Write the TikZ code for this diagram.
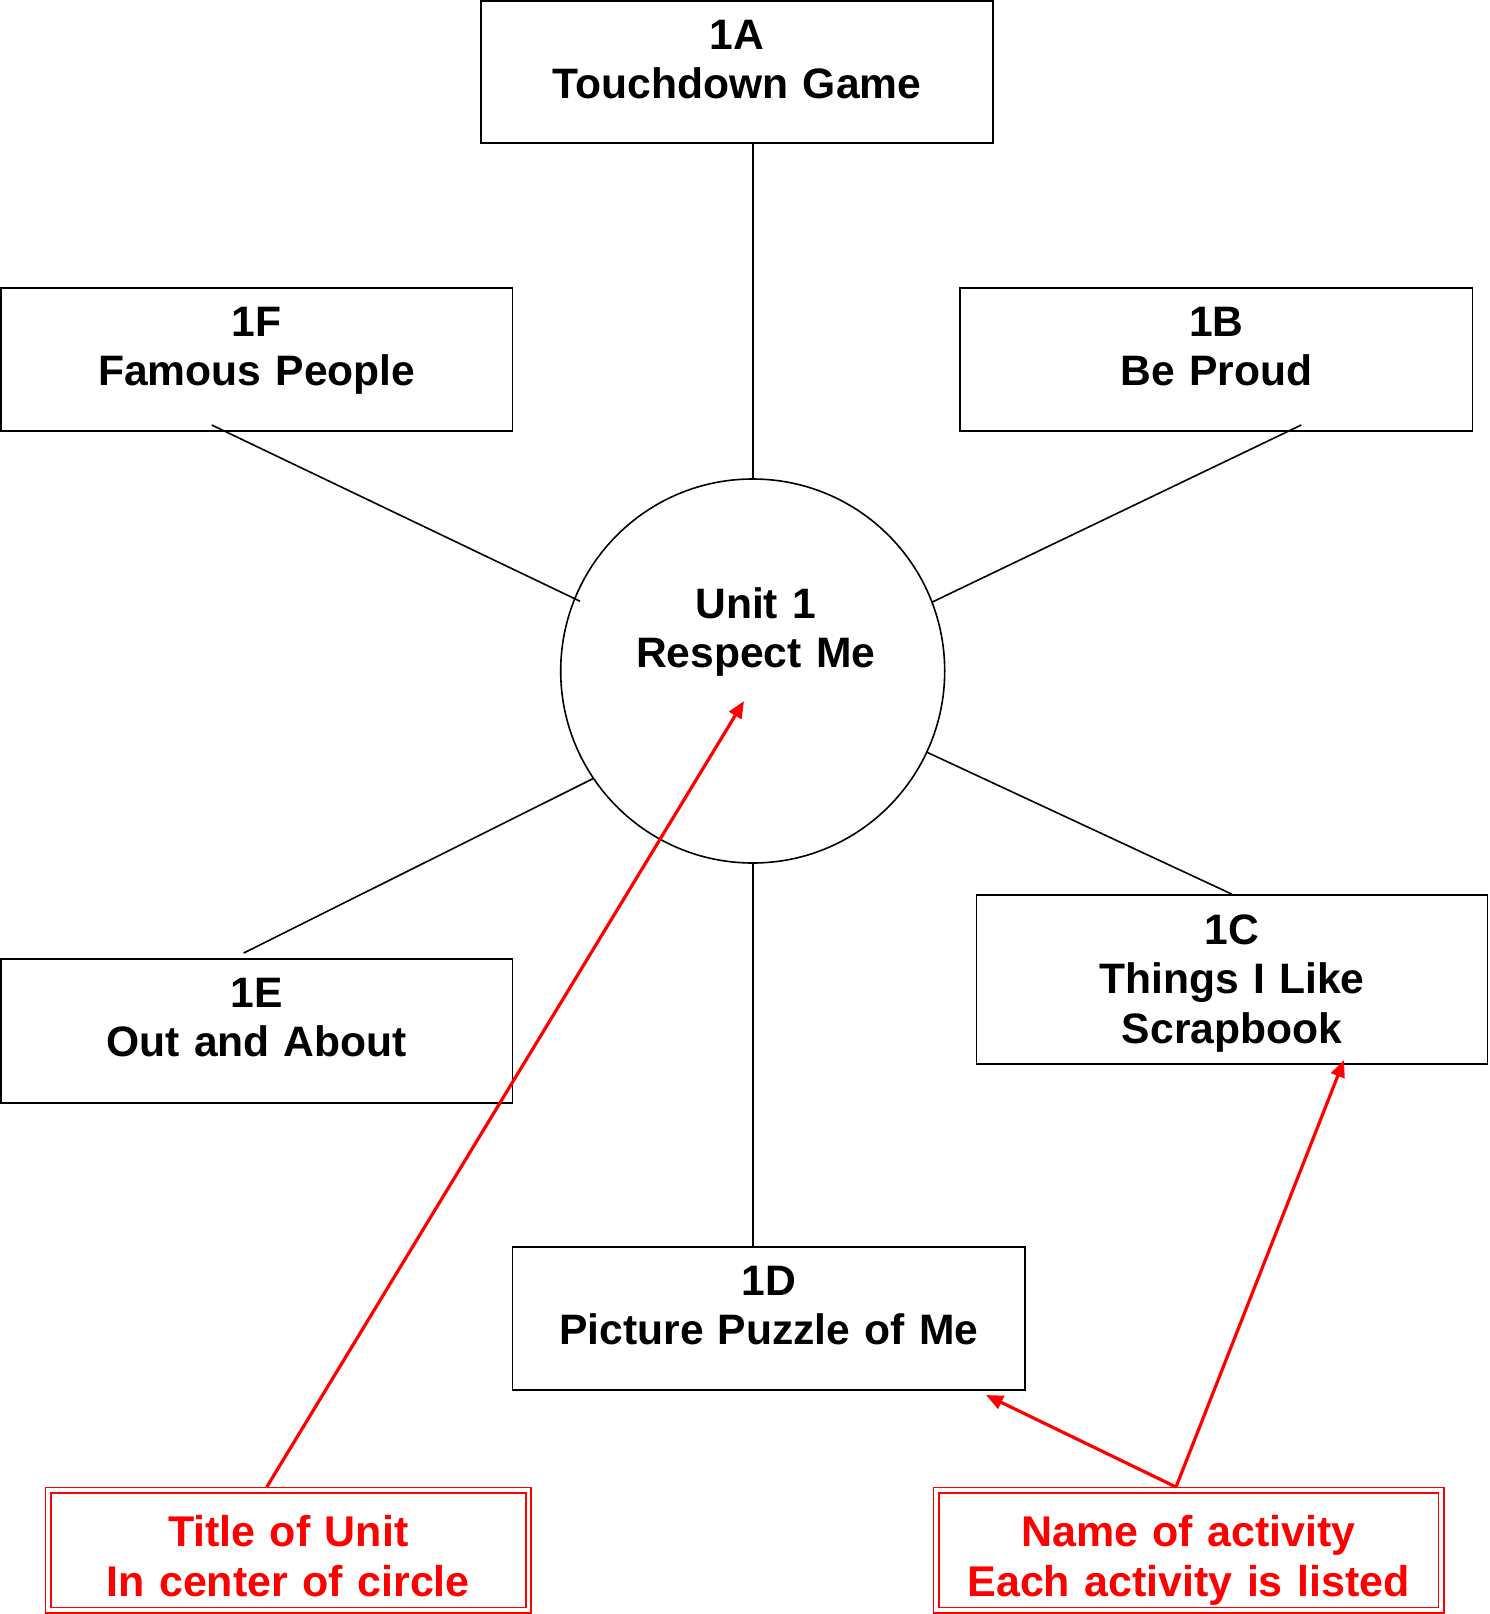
\documentclass[tikz,border=0pt]{standalone}
\usepackage{fontspec}
\setmainfont{Liberation Sans}
\usetikzlibrary{calc,arrows.meta}
\begin{document}
\begin{tikzpicture}[x=1pt,y=-1pt,
  box/.style={draw=black,line width=1.8pt,inner sep=0pt,outer sep=0pt,anchor=north west},
  lbl/.style={font=\fontsize{42.6}{49.4}\selectfont\bfseries,text width=520pt,align=center,inner sep=0pt,anchor=base},
  rlbl/.style={lbl,text=red,font=\fontsize{43}{49.4}\selectfont\bfseries},
  conn/.style={draw=black,line width=1.6pt},
  redbox/.style={draw=red,line width=1.8pt,double=white,double distance=3.4pt,inner sep=0pt,outer sep=0pt,anchor=north west},
  redarrow/.style={draw=red,line width=3.2pt,-{Triangle[length=17pt,width=14pt]}}]
\useasboundingbox (0,0) rectangle (1489,1614);
% activity boxes
\node[box,minimum width=512pt,minimum height=142pt] (nA) at (481,1) {};
\node[box,minimum width=511.5pt,minimum height=143pt] (nF) at (1,288) {};
\node[box,minimum width=512.5pt,minimum height=143pt] (nB) at (960,288) {};
\node[box,minimum width=511.5pt,minimum height=144pt] (nE) at (1,959) {};
\node[box,minimum width=511pt,minimum height=169pt] (nC) at (976.5,895) {};
\node[box,minimum width=512.5pt,minimum height=143pt] (nD) at (512.5,1247) {};
% centre circle
\node[circle,draw=black,line width=1.6pt,minimum size=384pt,inner sep=0pt,outer sep=0pt] (unit) at (752.7,671) {};
% texts
\node[lbl] (tA) at ($(nA.north)+(0,48.5)$) {1A\\Touchdown Game};
\node[lbl] (tF) at ($(nF.north)+(0,48.5)$) {1F\\Famous People};
\node[lbl] (tB) at ($(nB.north)+(0,48.5)$) {1B\\Be Proud};
\node[lbl] (tE) at ($(nE.north)+(0,48.5)$) {1E\\Out and About};
\node[lbl] (tC) at ($(nC.north)+(0,49.5)$) {1C\\Things I Like\\Scrapbook};
\node[lbl] (tD) at ($(nD.north)+(0,48.5)$) {1D\\Picture Puzzle of Me};
\node[lbl] (tU) at ($(unit.center)+(3,-52.5)$) {Unit 1\\Respect Me};
% connectors
\draw[conn] (unit.north) -- (unit.north |- nA.south);
\draw[conn] (unit.south) -- (unit.south |- nD.north);
\draw[conn] ($(nF.south)+(-45,-6)$) -- ($(unit.center)!0.97!(unit.158)$);
\draw[conn] ($(nB.south)+(85,-6)$) -- (unit.21.6);
\draw[conn] (unit.214) -- ($(nE.north)+(-13,-6)$);
\draw[conn] (unit.335.5) -- ($(nC.north)+(0,-0.8)$);
% red annotation boxes
\node[redbox,minimum width=480.5pt,minimum height=120pt] (bL) at (48,1490) {};
\node[redbox,minimum width=505pt,minimum height=120pt] (bR) at (936,1490) {};
\node[rlbl] (rL) at ($(bL.north)+(0,56.6)$) {Title of Unit\\In center of circle};
\node[rlbl] (rR) at ($(bR.north)+(0,56.6)$) {Name of activity\\Each activity is listed};
% red arrows
\draw[redarrow] ($(bL.north)+(-21.5,-3)$) -- ($(unit.center)+(-8.7,30)$);
\draw[redarrow] ($(bR.north)+(-12.5,-3)$) -- ($(nD.south east)+(-39,5)$);
\draw[redarrow] ($(bR.north)+(-12.5,-3)$) -- ($(nC.south)+(112,-4)$);
\end{tikzpicture}
\end{document}
